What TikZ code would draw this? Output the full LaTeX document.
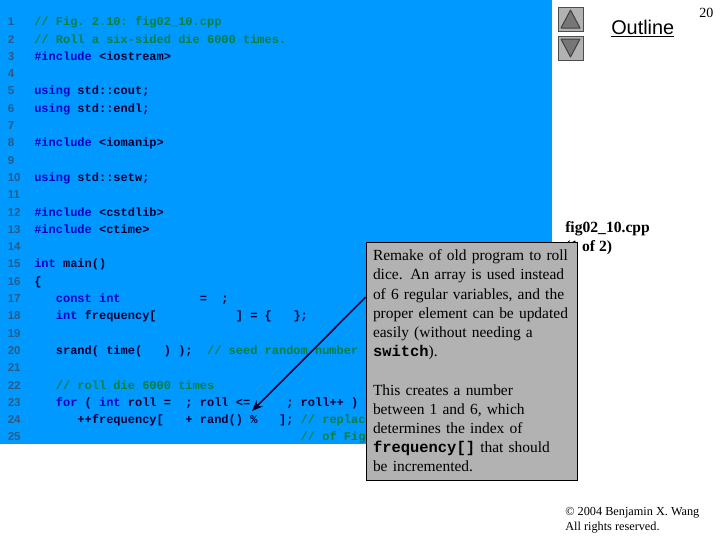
\documentclass[tikz,border=0pt]{standalone}
\usepackage{fontspec}
\setmainfont{Liberation Serif}
\setsansfont{Liberation Sans}
\setmonofont{Liberation Mono}
\usepackage{xcolor}
\definecolor{Slide Blue}{HTML}{0099ff}
\definecolor{Box Gray}{HTML}{b2b2b2}
\definecolor{Arrow Gray}{HTML}{777777}
\definecolor{Line Gray}{HTML}{2b5a85}
\definecolor{Code Green}{HTML}{008040}
\definecolor{Code Blue}{HTML}{0000cc}
\definecolor{Code Ink}{HTML}{000033}
\colorlet{cPanel}{Slide Blue}
\colorlet{cBox}{Box Gray}
\usetikzlibrary{arrows.meta}
\newcommand{\kw}[1]{\textcolor{Code Blue}{#1}}
\newcommand{\cm}[1]{\textcolor{Code Green}{#1}}
\tikzset{
	x = .75pt,
	y = -.75pt,
	code/.style={
		anchor=base west,
		inner sep=0pt,
		text=Code Ink,
		font=\fontsize{9}{9}\selectfont\ttfamily\bfseries
	},
	line number/.style={
		anchor=base west,
		inner sep=0pt,
		text=Line Gray,
		font=\fontsize{8.6}{9}\selectfont\sffamily\bfseries
	},
	callout/.style={
		draw=black,
		fill=cBox,
		line width=.75pt,
		minimum width=158.25pt,
		minimum height=178.5pt,
		inner xsep=5.25pt,
		inner ysep=0pt,
		text width=147.75pt,
		align=left,
		font=\fontsize{11.6}{14.4}\selectfont
	},
	nav button/.style={
		draw=black!70,
		fill=cBox,
		line width=.75pt,
		minimum width=18.75pt,
		minimum height=18pt,
		inner sep=0pt
	},
	nav arrow/.style={
		draw=black!75,
		fill=Arrow Gray,
		line width=.75pt,
		line join=round
	},
	pointer/.style={
		-{Stealth[length=8pt,width=6.5pt]},
		draw=Code Ink,
		line width=1.2pt
	}
}

\begin{document}
\begin{tikzpicture}
\useasboundingbox (0,0) rectangle (720,540);
\fill[white] (0,0) rectangle (720,540);
\fill[cPanel] (0,0) rectangle (552,444);

% ---
% line numbers
% ---
\foreach \n in {1,...,25} {
	\node[line number] (num-\n) at (7.5,25.7+17.3*\n-17.3) {\n};
}

% ---
% code
% ---
\node[code] (code-1) at (34,25.7) {\cm{// Fig. 2.10: fig02\_10.cpp}};
\node[code] (code-2) at (34,43) {\cm{// Roll a six-sided die 6000 times.}};
\node[code] (code-3) at (34,60.3) {\kw{\#include} <iostream>};
\node[code] (code-5) at (34,94.9) {\kw{using} std::cout;};
\node[code] (code-6) at (34,112.2) {\kw{using} std::endl;};
\node[code] (code-8) at (34,146.8) {\kw{\#include} <iomanip>};
\node[code] (code-10) at (34,181.4) {\kw{using} std::setw;};
\node[code] (code-12) at (34,216) {\kw{\#include} <cstdlib>};
\node[code] (code-13) at (34,233.3) {\kw{\#include} <ctime>};
\node[code] (code-15) at (34,267.9) {\kw{int} main()};
\node[code] (code-16) at (34,285.2) {\{};
\node[code] (code-17) at (34,302.5) {~~~\kw{const int}~~~~~~~~~~~=~~;};
\node[code] (code-18) at (34,319.8) {~~~\kw{int} frequency[~~~~~~~~~~~]~=~\{~~~\};};
\node[code] (code-20) at (34,354.4) {~~~srand( time(~~~) );~~\cm{// seed random number}};
\node[code] (code-22) at (34,389) {~~~\cm{// roll die 6000 times}};
\node[code] (code-23) at (34,406.3) {~~~\kw{for} ( \kw{int} roll =~~; roll <=~~~~~; roll++ )};
\node[code] (code-24) at (34,423.6) {~~~~~~++frequency[~~~+ rand() \%~~~];~\cm{// replac}};
\node[code] (code-25) at (34,440.9) {~~~~~~~~~~~~~~~~~~~~~~~~~~~~~~~~~~~~~\cm{// of Fig}};

% ---
% right column
% ---
\node[nav button] (btn-up) at (570.5,19) {};
\node[nav button] (btn-down) at (570.5,48) {};
\draw[nav arrow] (570.5,10) -- (561,28) -- (580,28) -- cycle;
\draw[nav arrow] (570.5,57) -- (561,39) -- (580,39) -- cycle;

\node[anchor=base west, inner sep=0pt, font=\fontsize{14.9}{16}\selectfont\sffamily] (outline) at (611,34) {\underline{Outline}};
\node[anchor=base west, inner sep=0pt, font=\fontsize{10.5}{12}\selectfont] (page-no) at (699,17) {20};
\node[anchor=base west, inner sep=0pt, align=left, font=\fontsize{11.7}{14.2}\selectfont\bfseries] (file-name) at (565,251) {fig02\_10.cpp\\(1 of 2)};
\node[anchor=north west, inner sep=0pt, align=left, font=\fontsize{9.2}{11.5}\selectfont] (copyright) at (565,507) {© 2004 Benjamin X. Wang\\All rights reserved.};

% ---
% note
% ---
\coordinate (arrow-tip) at (252,411);
\node[callout] (note) at (471.5,361) {Remake of old program to roll\\dice. An array is used instead\\of 6 regular variables, and the\\proper element can be updated\\easily (without needing a\\{\ttfamily\bfseries switch}).\\\mbox{}\\This creates a number\\between 1 and 6, which\\determines the index of\\{\ttfamily\bfseries frequency[]} that should\\be incremented.};
\draw[pointer] (note.149) to (arrow-tip);
\end{tikzpicture}
\end{document}
